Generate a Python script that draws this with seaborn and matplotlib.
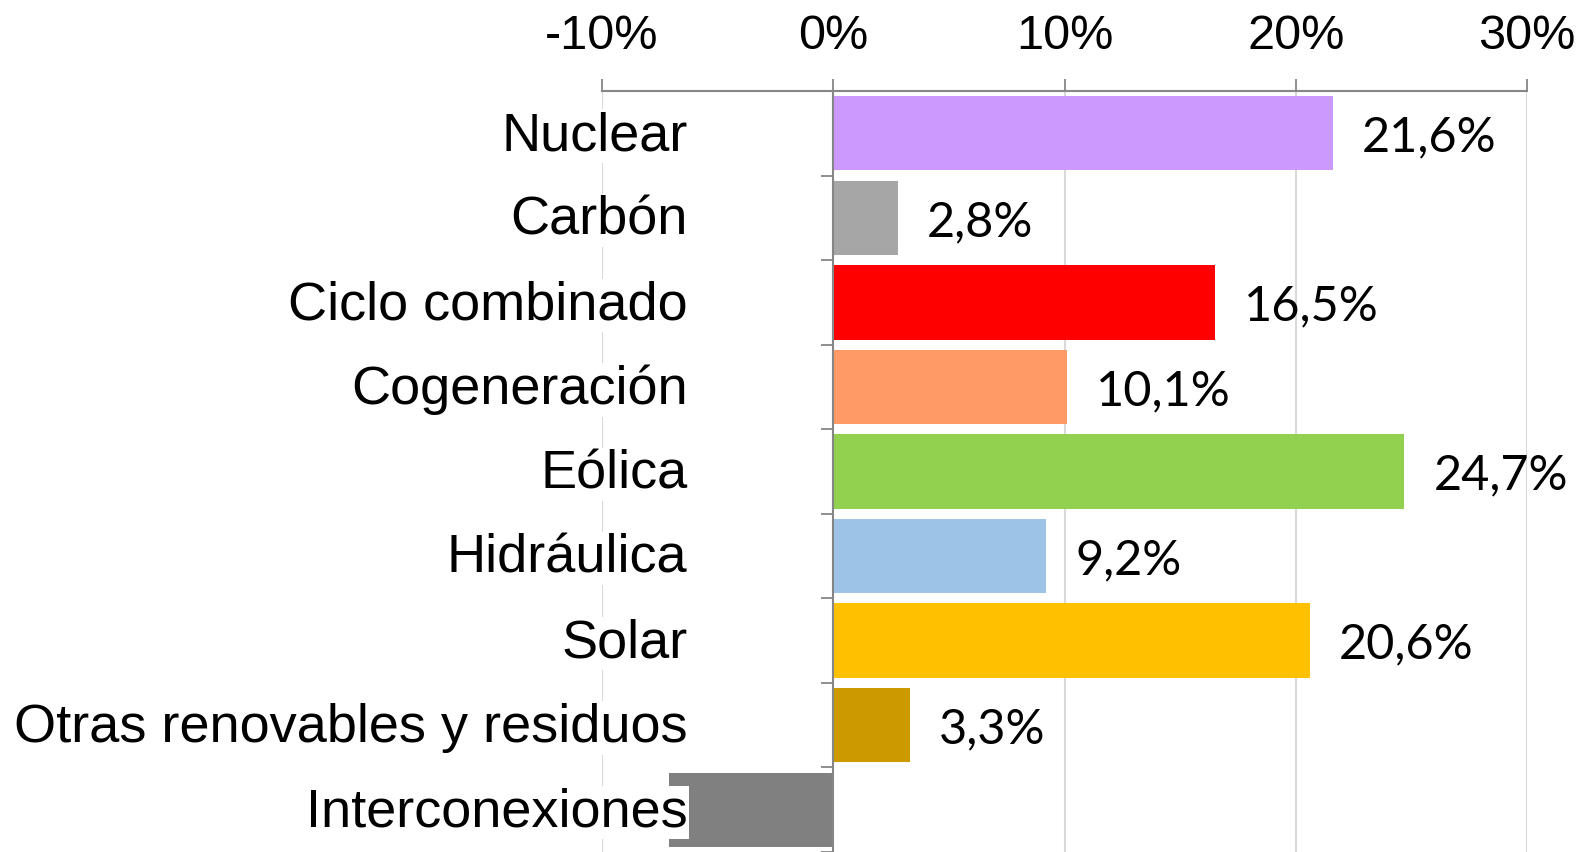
import matplotlib
matplotlib.use("Agg")
import matplotlib.pyplot as plt
import numpy as np
import pandas as pd
import seaborn as sns

# Variación de la producción por tecnología
categories = [
    "Nuclear",
    "Carbón",
    "Ciclo combinado",
    "Cogeneración",
    "Eólica",
    "Hidráulica",
    "Solar",
    "Otras renovables y residuos",
    "Interconexiones",
]
values = [21.6, 2.8, 16.5, 10.1, 24.7, 9.2, 20.6, 3.3, -7.1]
colors = ["#CC99FF", "#A6A6A6", "#FF0000", "#FF9966", "#92D050",
          "#9DC3E6", "#FFC000", "#CC9900", "#808080"]
x_ticks = [-10, 0, 10, 20, 30]

sns.set_style("white")
plt.rcParams["font.family"] = ["Liberation Sans", "DejaVu Sans"]

df = pd.DataFrame({"tech": categories, "pct": values})

fig = plt.figure(figsize=(15.95, 8.52), dpi=100)
ax = fig.add_axes([602 / 1595, 0.0, 925 / 1595, 761 / 852])

sns.barplot(data=df, x="pct", y="tech", hue="tech", palette=colors,
            orient="h", width=0.88, legend=False, saturation=1,
            linewidth=0, ax=ax)

ax.set_xlim(-10, 30)
ax.set_ylim(len(categories) - 0.5, -0.5)

# vertical gridlines
for t in x_ticks:
    if t != 0:
        ax.axvline(t, color="#D9D9D9", linewidth=1.5, zorder=0)

# top axis with outward ticks
ax.xaxis.tick_top()
ax.set_xticks(x_ticks)
ax.set_xticklabels([f"{t}%" for t in x_ticks], fontsize=35, color="black")
ax.tick_params(axis="x", direction="out", length=9, width=1.3,
               color="#868686", pad=14)
ax.set_xlabel("")
ax.set_ylabel("")

# category axis at x = 0
for s in ["right", "bottom"]:
    ax.spines[s].set_visible(False)
ax.spines["top"].set_color("#868686")
ax.spines["top"].set_linewidth(1.5)
ax.spines["left"].set_position(("data", 0))
ax.spines["left"].set_color("#868686")
ax.spines["left"].set_linewidth(1.5)
ax.spines["left"].set_zorder(3)
ax.set_yticks([])
ax.set_yticks(np.arange(len(categories) + 1) - 0.5, minor=True)
ax.tick_params(axis="y", which="minor", left=True, direction="out", length=9,
               width=1.3, color="#868686")

# category labels
for i, name in enumerate(categories):
    ax.annotate(name, xy=(0, i), xytext=(-105, -2), textcoords="offset points",
                ha="right", va="center", fontsize=39, color="black",
                bbox=dict(facecolor="white", edgecolor="none", pad=1),
                zorder=5, annotation_clip=False)

# data labels
for i, v in enumerate(values):
    if v > 0:
        ax.annotate(f"{v:.1f}%".replace(".", ","), xy=(v, i), xytext=(21, -3),
                    textcoords="offset points", ha="left", va="center",
                    fontsize=35, family=["Lato", "DejaVu Sans"], color="black")

fig.savefig("out.png", dpi=100)
